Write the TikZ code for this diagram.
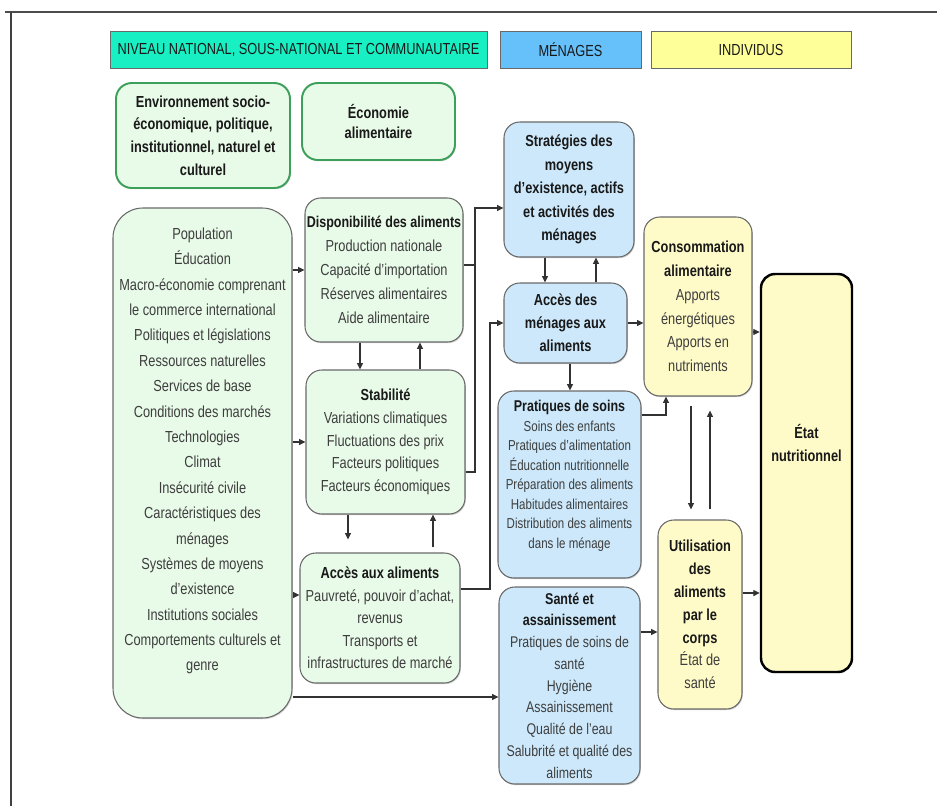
\documentclass[tikz,border=0pt]{standalone}
\usepackage{fontspec}
\setmainfont{Liberation Sans}[FakeStretch=0.8]
\usetikzlibrary{arrows.meta,shadows}

\definecolor{hdrgreen}{RGB}{24,240,196}
\definecolor{hdrblue}{RGB}{102,192,250}
\definecolor{hdryellow}{RGB}{255,255,153}
\definecolor{natfill}{RGB}{232,250,232}
\definecolor{natedge}{RGB}{60,160,90}
\definecolor{menfill}{RGB}{204,232,250}
\definecolor{indfill}{RGB}{255,251,200}
\definecolor{edge}{RGB}{105,105,105}
\definecolor{ink}{RGB}{62,62,62}
\definecolor{inkdark}{RGB}{25,25,25}
\definecolor{wire}{RGB}{50,50,50}

\newcommand{\boxtitle}[1]{{\color{inkdark}\bfseries #1}}

\tikzset{
  sz/.style 2 args={minimum width=#1*0.02cm, minimum height=#2*0.02cm},
  shd/.style={drop shadow={shadow xshift=0.5pt,shadow yshift=-0.7pt,opacity=0.35}},
  base/.style={inner sep=0pt, align=center, text=ink},
  hdr/.style={base, shd, rectangle, draw=edge, line width=0.5pt,
    font=\fontsize{9.1}{11}\selectfont, text=inkdark},
  natbox/.style={base, shd, rounded corners=9pt, draw=edge, fill=natfill, line width=0.6pt},
  topbox/.style={base, shd, rounded corners=9pt, draw=natedge, fill=natfill, line width=1.1pt,
    text=inkdark},
  menbox/.style={base, shd, rounded corners=9pt, draw=edge, fill=menfill, line width=0.6pt},
  indbox/.style={base, shd, rounded corners=9pt, draw=edge, fill=indfill, line width=0.6pt},
  goalbox/.style={base, shd, rounded corners=8pt, draw=black, fill=indfill, line width=1.4pt},
  boxtext/.style={base},
  arr/.style={draw=wire, line width=0.6pt, -{Triangle[length=3.6pt,width=3.4pt]}},
  wireline/.style={draw=wire, line width=0.6pt},
}

\begin{document}
\begin{tikzpicture}[x=0.02cm, y=-0.02cm]
\useasboundingbox (0,0) rectangle (937,806);
\fill[white] (0,0) rectangle (937,806);

% page frame
\draw[line width=1.4pt, black!70] (5,12) -- (937,12);
\draw[line width=0.6pt, black!75] (11,12) -- (11,806);

% column headers
\node[hdr, fill=hdrgreen, sz={377}{37}] (hnat) at (298.5,49.5) {NIVEAU NATIONAL, SOUS-NATIONAL ET COMMUNAUTAIRE};
\node[hdr, fill=hdrblue, sz={141}{37}] (hmen) at (570.5,49.5) {MÉNAGES};
\node[hdr, fill=hdryellow, sz={200}{37}] (hind) at (751,49.5) {INDIVIDUS};

% national level
\node[topbox, sz={174}{105}, font=\fontsize{9.1}{12.9}\selectfont\bfseries] (env) at (203,135.5)
  {Environnement socio-\\économique, politique,\\institutionnel, naturel et\\culturel};
\node[topbox, sz={153}{77}, font=\fontsize{9.1}{11.9}\selectfont\bfseries] (eco) at (378.5,121.5)
  {Économie\\alimentaire};

\node[natbox, rounded corners=17pt, sz={179}{510}] (ctx) at (202.5,463) {};
\node[boxtext, font=\fontsize{9.1}{14.45}\selectfont] (ctxtext) at (202.5,451)
  {Population\\Éducation\\Macro-économie comprenant\\le commerce international\\Politiques et législations\\Ressources naturelles\\Services de base\\Conditions des marchés\\Technologies\\Climat\\Insécurité civile\\Caractéristiques des\\ménages\\Systèmes de moyens\\d’existence\\Institutions sociales\\Comportements culturels et\\genre};

\node[natbox, sz={158}{144}, font=\fontsize{9.1}{13.6}\selectfont] (dispo) at (384,270)
  {\boxtitle{\fontsize{8.9}{13.6}\selectfont Disponibilité des aliments}\\Production nationale\\Capacité d’importation\\Réserves alimentaires\\Aide alimentaire};
\node[natbox, sz={159}{144}, font=\fontsize{9.1}{12.9}\selectfont] (stab) at (385.5,442)
  {\boxtitle{Stabilité}\\Variations climatiques\\Fluctuations des prix\\Facteurs politiques\\Facteurs économiques};
\node[natbox, sz={160}{130}, font=\fontsize{9.1}{12.75}\selectfont] (acces) at (380,618)
  {\boxtitle{Accès aux aliments}\\Pauvreté, pouvoir d’achat,\\revenus\\Transports et\\infrastructures de marché};

% household level
\node[menbox, sz={130}{135}, font=\fontsize{9.1}{13.3}\selectfont\bfseries, text=inkdark] (strat) at (569,189.5)
  {Stratégies des\\moyens\\d’existence, actifs\\et activités des\\ménages};
\node[menbox, sz={123}{80}, font=\fontsize{9.1}{13}\selectfont\bfseries, text=inkdark] (accmen) at (565.5,323)
  {Accès des\\ménages aux\\aliments};
\node[menbox, sz={143}{187}] (prat) at (569.5,484.5) {};
\node[boxtext, font=\fontsize{8.2}{11.1}\selectfont] (prattext) at (569.5,476)
  {\boxtitle{\fontsize{8.9}{11.1}\selectfont Pratiques de soins}\\Soins des enfants\\Pratiques d’alimentation\\Éducation nutritionnelle\\Préparation des aliments\\Habitudes alimentaires\\Distribution des aliments\\dans le ménage};
\node[menbox, sz={141}{197}, font=\fontsize{8.8}{12.4}\selectfont] (sante) at (569.5,685.5)
  {\boxtitle{\fontsize{8.9}{12.4}\selectfont Santé et}\\\boxtitle{\fontsize{8.9}{12.4}\selectfont assainissement}\\Pratiques de soins de\\santé\\Hygiène\\Assainissement\\Qualité de l’eau\\Salubrité et qualité des\\aliments};

% individual level
\node[indbox, sz={108}{179}, font=\fontsize{9.1}{13.5}\selectfont] (conso) at (698,306.5)
  {\boxtitle{Consommation}\\\boxtitle{alimentaire}\\Apports\\énergétiques\\Apports en\\nutriments};
\node[indbox, sz={84}{189}, font=\fontsize{9.1}{13}\selectfont] (util) at (700,614.5)
  {\boxtitle{Utilisation}\\\boxtitle{des}\\\boxtitle{aliments}\\\boxtitle{par le}\\\boxtitle{corps}\\État de\\santé};
\node[goalbox, sz={91}{398}] (etat) at (806.5,473) {};
\node[boxtext, font=\fontsize{9.1}{13}\selectfont\bfseries, text=inkdark] (etattext) at (806.5,443)
  {État\\nutritionnel};

% routing points
\coordinate (fA) at (0,595);
\coordinate (fS) at (0,697);
\coordinate (fT) at (0,208);
\coordinate (fB) at (0,472);
\coordinate (fU) at (0,632);
\coordinate (fE1) at (0,332);
\coordinate (fE2) at (0,593);
\coordinate (jD) at (475,265);
\coordinate (jA) at (490,589);
\coordinate (jP) at (666,415);
\coordinate (c1) at (360,0);
\coordinate (c2) at (420,0);
\coordinate (c3) at (348,0);
\coordinate (c4) at (433,0);
\coordinate (c5) at (545,0);
\coordinate (c6) at (596,0);
\coordinate (c7) at (570,0);
\coordinate (c8) at (691,0);
\coordinate (c9) at (710,0);

% context feeds the national dimensions
\draw[arr] (ctx.east |- dispo.west) -- (dispo.west);
\draw[arr] (ctx.east |- stab.west) -- (stab.west);
\draw[arr] (ctx.east |- fA) -- (acces.west |- fA);
\draw[arr] (ctx.east |- fS) -- (sante.west |- fS);

% links between national dimensions
\draw[arr] (dispo.south -| c1) -- (stab.north -| c1);
\draw[arr] (stab.north -| c2) -- (dispo.south -| c2);
\draw[arr, shorten >=0.26cm] (stab.south -| c3) -- (acces.north -| c3);
\draw[arr, shorten <=0.1cm] (acces.north -| c4) -- (stab.south -| c4);

% national level to households
\draw[arr] (dispo.east |- jD) -- (jD) |- (strat.west |- fT);
\draw[wireline] (stab.east |- fB) -| (jD);
\draw[arr] (acces.east |- jA) -- (jA) |- (accmen.west);

% household links
\draw[arr] (strat.south -| c5) -- (accmen.north -| c5);
\draw[arr] (accmen.north -| c6) -- (strat.south -| c6);
\draw[arr] (accmen.south -| c7) -- (prat.north -| c7);
\draw[arr] (accmen.east) -- (conso.west |- accmen.east);
\draw[arr] (prat.east |- jP) -| (conso.south -| jP);
\draw[arr] (sante.east |- fU) -- (util.west |- fU);

% individual level
\draw[arr, shorten <=0.18cm, shorten >=0.2cm] (conso.south -| c8) -- (util.north -| c8);
\draw[arr, shorten <=0.2cm, shorten >=0.28cm] (util.north -| c9) -- (conso.south -| c9);
\draw[arr] (conso.east |- fE1) -- (etat.west |- fE1);
\draw[arr] (util.east |- fE2) -- (etat.west |- fE2);
\end{tikzpicture}
\end{document}
